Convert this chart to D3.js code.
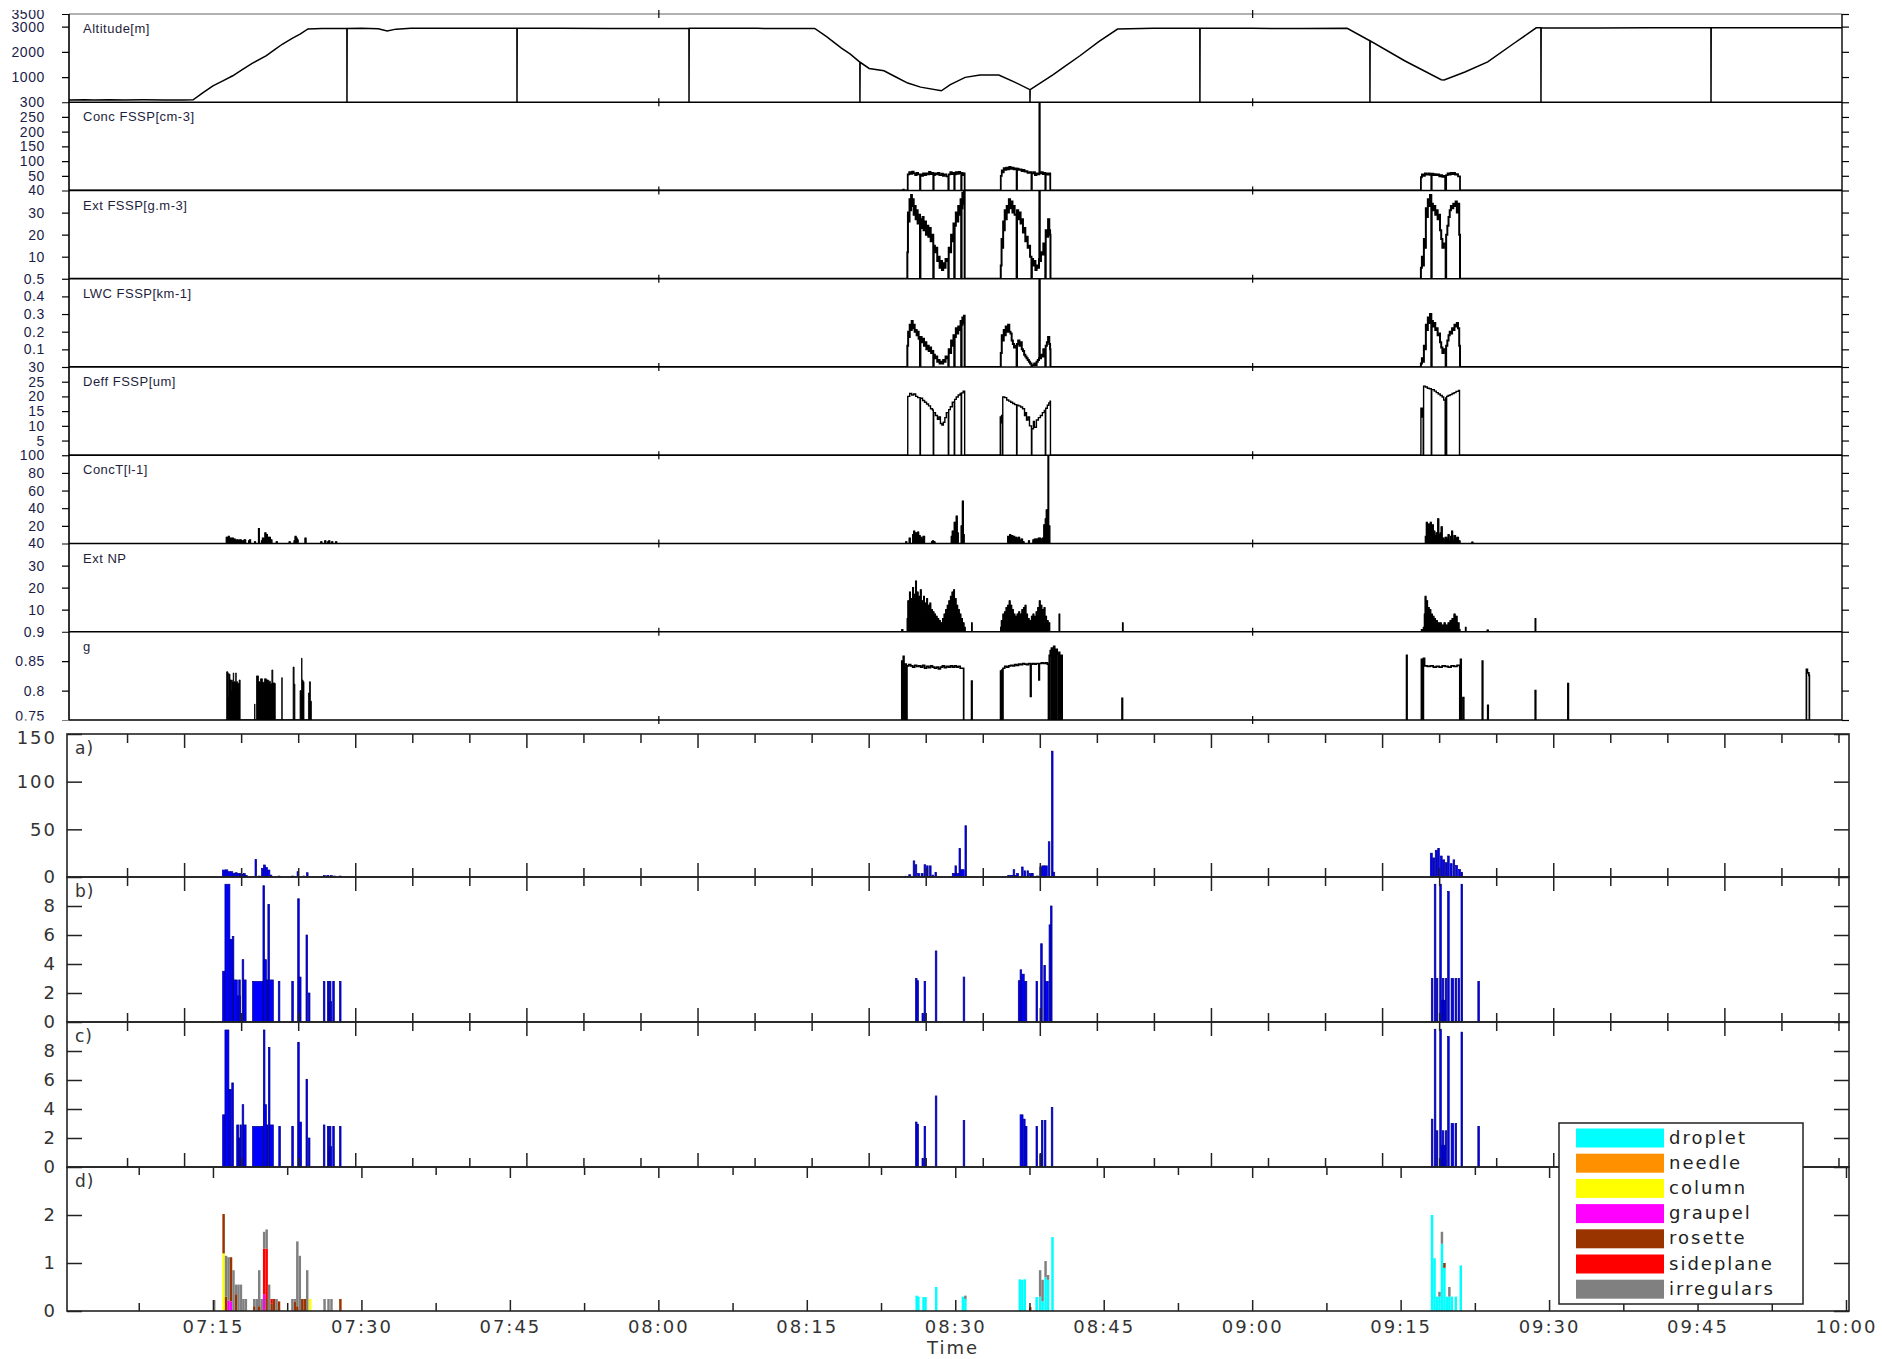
<!DOCTYPE html>
<html><head><meta charset="utf-8">
<script src="https://cdn.jsdelivr.net/npm/d3@7"></script>
<style>body{margin:0;background:#fff}svg{display:block}</style>
</head><body><svg id="c" width="1882" height="1359"></svg>
<script>
// ===== DATA (time = minutes after 07:00) =====
const altitude = [[0.45,90],[2,95],[3,85],[4.5,100],[6,90],[8,95],[10,88],[12,92],[13.0,95],[14.0,380],[15.0,650],[16.0,850],[17.0,1050],[18.0,1300],[19.0,1550],[20.4,1850],[21.2,2080],[22.0,2300],[23.0,2530],[23.8,2700],[24.6,2910],[26,2920],[28.53,2925],[28.54,0],[28.56,2925],[30,2930],[31.7,2915],[32.6,2830],[33.5,2900],[35,2930],[40,2935],[45.71,2930],[45.72,0],[45.74,2930],[50,2935],[55,2925],[63.09,2935],[63.1,0],[63.12,2935],[70,2930],[75.8,2925],[77.0,2600],[78.5,2150],[79.4,1910],[80.36,1590],[80.37,0],[80.39,1585],[81.3,1340],[82.8,1250],[84.0,1000],[85.2,760],[86.5,600],[88.6,456],[89.5,700],[91.0,987],[92.5,1079],[94.4,1079],[96.0,800],[97.54,500],[97.55,0],[97.57,500],[99.9,1100],[101.0,1400],[102.6,1844],[104.5,2400],[106.4,2903],[110,2930],[114.71,2935],[114.72,0],[114.74,2935],[120,2930],[125,2925],[129.6,2931],[131.89,2440],[131.9,0],[131.92,2440],[135.4,1646],[139.1,892],[139.4,880],[141.5,1200],[143.8,1600],[146.5,2350],[148.7,2950],[149.17,2950],[149.18,0],[149.2,2950],[155,2945],[160,2950],[166.35,2950],[166.36,0],[166.38,2950],[172,2955],[179.6,2950]];

const concFSSP = [[0.45,0],[84.7,0],[84.75,3],[84.8,0],[85.15,0],[85.2,55],[85.35,62],[85.5,57],[85.65,64],[85.8,58],[85.95,52],[86.1,60],[86.25,55],[86.44,0],[86.48,55],[86.6,50],[86.75,58],[86.9,52],[87.05,58],[87.2,55],[87.35,63],[87.5,56],[87.65,60],[87.78,0],[87.82,52],[87.95,58],[88.1,55],[88.25,60],[88.4,52],[88.6,57],[88.75,50],[88.9,55],[89.1,48],[89.3,0],[89.34,55],[89.5,62],[89.65,56],[89.8,60],[89.9,0],[89.94,55],[90.05,62],[90.2,57],[90.35,63],[90.5,58],[90.6,0],[90.64,60],[90.75,52],[90.85,58],[90.95,0],[94.55,0],[94.6,50],[94.7,68],[94.8,62],[94.9,76],[95.0,70],[95.15,78],[95.3,72],[95.45,80],[95.6,74],[95.75,78],[95.9,72],[96.05,75],[96.2,0],[96.24,74],[96.4,70],[96.55,72],[96.7,66],[96.85,70],[97.0,64],[97.15,66],[97.3,60],[97.5,62],[97.7,0],[97.74,58],[97.9,62],[98.05,52],[98.2,58],[98.35,55],[98.5,320],[98.54,58],[98.7,62],[98.85,56],[99.0,60],[99.1,0],[99.14,58],[99.3,54],[99.45,58],[99.6,0],[137.0,0],[137.05,45],[137.15,55],[137.3,50],[137.45,58],[137.6,54],[137.8,58],[137.95,53],[138.1,0],[138.14,57],[138.3,52],[138.45,56],[138.6,52],[138.75,55],[138.9,48],[139.05,52],[139.2,46],[139.35,50],[139.5,0],[139.6,52],[139.75,58],[139.9,54],[140.05,60],[140.2,56],[140.35,60],[140.5,54],[140.65,56],[140.8,48],[141.0,0],[179.6,0]];

const extFSSP = [[0.45,0],[85.1,0],[85.16,12],[85.22,30],[85.3,26],[85.38,36],[85.46,31],[85.54,38],[85.62,33],[85.7,36],[85.8,29],[85.9,33],[86.0,27],[86.1,31],[86.2,25],[86.3,29],[86.44,0],[86.48,27],[86.58,23],[86.7,28],[86.8,22],[86.92,26],[87.04,20],[87.16,24],[87.28,19],[87.4,23],[87.52,17],[87.64,20],[87.78,0],[87.82,15],[87.94,12],[88.06,14],[88.18,8],[88.3,10],[88.42,5],[88.54,8],[88.66,4],[88.78,7],[88.9,5],[89.02,9],[89.14,8],[89.3,0],[89.34,14],[89.46,12],[89.58,20],[89.7,17],[89.82,25],[89.9,0],[89.94,24],[90.06,30],[90.18,26],[90.3,33],[90.42,29],[90.54,36],[90.6,0],[90.64,32],[90.72,39],[90.8,34],[90.88,40],[90.95,0],[94.55,0],[94.6,6],[94.68,18],[94.76,14],[94.84,26],[94.92,22],[95.0,31],[95.1,27],[95.2,33],[95.3,30],[95.42,36],[95.54,32],[95.66,35],[95.78,30],[95.9,33],[96.0,29],[96.2,0],[96.24,31],[96.36,27],[96.48,30],[96.6,25],[96.72,27],[96.84,21],[96.96,23],[97.08,17],[97.2,19],[97.32,14],[97.44,15],[97.56,10],[97.7,0],[97.74,9],[97.86,6],[97.98,8],[98.1,4],[98.22,6],[98.34,5],[98.46,9],[98.5,45],[98.54,8],[98.66,12],[98.78,11],[98.9,16],[99.02,14],[99.1,0],[99.14,22],[99.26,19],[99.38,27],[99.5,22],[99.58,20],[99.62,0],[137.0,0],[137.05,5],[137.15,10],[137.25,6],[137.35,18],[137.45,14],[137.55,32],[137.65,28],[137.75,36],[137.85,33],[137.97,38],[138.1,0],[138.14,34],[138.26,31],[138.38,33],[138.5,29],[138.62,31],[138.74,27],[138.86,29],[138.98,22],[139.1,18],[139.22,14],[139.34,16],[139.55,0],[139.6,20],[139.72,24],[139.84,28],[139.96,31],[140.08,33],[140.2,32],[140.32,34],[140.44,33],[140.56,35],[140.68,30],[140.8,34],[140.92,20],[141.0,0],[179.6,0]];

const lwcFSSP = [[0.45,0],[85.1,0],[85.16,0.12],[85.24,0.2],[85.32,0.17],[85.4,0.24],[85.5,0.21],[85.6,0.26],[85.7,0.22],[85.8,0.24],[85.9,0.2],[86.0,0.21],[86.1,0.18],[86.2,0.2],[86.3,0.16],[86.44,0],[86.48,0.17],[86.6,0.14],[86.72,0.16],[86.84,0.12],[86.96,0.14],[87.08,0.1],[87.2,0.12],[87.32,0.09],[87.44,0.11],[87.56,0.08],[87.68,0.09],[87.78,0],[87.82,0.07],[87.94,0.05],[88.06,0.06],[88.18,0.03],[88.3,0.04],[88.42,0.02],[88.54,0.03],[88.66,0.02],[88.78,0.04],[88.9,0.03],[89.02,0.06],[89.14,0.05],[89.3,0],[89.34,0.1],[89.46,0.08],[89.58,0.15],[89.7,0.12],[89.82,0.18],[89.9,0],[89.94,0.17],[90.06,0.22],[90.18,0.19],[90.3,0.23],[90.42,0.21],[90.54,0.26],[90.6,0],[90.64,0.24],[90.72,0.28],[90.8,0.25],[90.88,0.29],[90.95,0],[94.55,0],[94.6,0.08],[94.7,0.18],[94.8,0.15],[94.9,0.21],[95.0,0.18],[95.1,0.23],[95.22,0.2],[95.34,0.24],[95.46,0.2],[95.58,0.19],[95.7,0.15],[95.82,0.13],[95.94,0.11],[96.06,0.12],[96.2,0],[96.24,0.13],[96.36,0.15],[96.48,0.12],[96.6,0.14],[96.72,0.1],[96.84,0.09],[96.96,0.07],[97.08,0.06],[97.2,0.05],[97.32,0.04],[97.44,0.03],[97.56,0.02],[97.7,0],[97.74,0.01],[97.86,0.01],[97.98,0.02],[98.1,0.01],[98.22,0.03],[98.34,0.04],[98.46,0.05],[98.5,0.55],[98.54,0.05],[98.66,0.07],[98.78,0.06],[98.9,0.1],[99.02,0.09],[99.1,0],[99.14,0.12],[99.26,0.14],[99.38,0.17],[99.5,0.13],[99.58,0.1],[99.62,0],[137.0,0],[137.05,0.02],[137.15,0.05],[137.25,0.03],[137.35,0.12],[137.45,0.1],[137.55,0.24],[137.65,0.21],[137.75,0.28],[137.85,0.25],[137.97,0.3],[138.1,0],[138.14,0.26],[138.26,0.23],[138.38,0.25],[138.5,0.21],[138.62,0.22],[138.74,0.18],[138.86,0.19],[138.98,0.14],[139.1,0.11],[139.22,0.08],[139.34,0.1],[139.55,0],[139.6,0.12],[139.72,0.15],[139.84,0.18],[139.96,0.2],[140.08,0.19],[140.2,0.22],[140.32,0.21],[140.44,0.24],[140.56,0.23],[140.68,0.25],[140.8,0.22],[140.92,0.12],[141.0,0],[179.6,0]];

const deffFSSP = [[0.45,0],[85.1,0],[85.2,20],[85.4,21],[85.6,20.5],[85.8,20.8],[86.0,20],[86.2,19.6],[86.44,0],[86.48,19.4],[86.7,18.6],[86.9,18],[87.1,17.4],[87.3,16.8],[87.5,15.8],[87.7,15.4],[87.78,0],[87.82,14.5],[88.0,13.5],[88.2,12.2],[88.35,13],[88.5,10.8],[88.65,10.3],[88.8,11.2],[88.95,12.8],[89.1,14.5],[89.3,0],[89.34,15.5],[89.5,16.5],[89.7,18],[89.9,0],[89.94,19],[90.1,19.8],[90.3,20.5],[90.5,21],[90.6,0],[90.64,21.2],[90.8,21.8],[90.95,0],[94.5,0],[94.55,13],[94.62,11],[94.68,13.5],[94.75,0],[94.8,19.8],[95.0,19.6],[95.2,18.8],[95.4,18.4],[95.6,18],[95.8,17.6],[96.0,17.2],[96.2,0],[96.24,17],[96.4,16.8],[96.6,16.4],[96.8,15.8],[97.0,13.5],[97.1,14.5],[97.2,12],[97.35,13],[97.5,10],[97.7,0],[97.74,9],[97.9,11.5],[98.0,9.5],[98.2,12],[98.4,12.8],[98.6,13.5],[98.8,14.5],[99.0,15.2],[99.1,0],[99.14,16],[99.3,17],[99.45,17.8],[99.58,18.4],[99.62,0],[137.0,0],[137.05,16],[137.12,13],[137.2,16],[137.28,0],[137.32,23.5],[137.5,23.2],[137.7,22.8],[137.9,22.6],[138.1,0],[138.14,22.3],[138.4,21.8],[138.6,21.3],[138.8,20.8],[139.0,20.3],[139.2,19.8],[139.35,18.8],[139.5,0],[139.55,19.5],[139.6,0],[139.65,20],[139.8,20.3],[140.0,20.6],[140.2,21],[140.4,21.3],[140.6,21.7],[140.85,22],[140.95,0],[179.6,0]];

const concT = [[0.45,0],[16.3,0],[16.35,7],[16.45,5],[16.55,8],[16.65,5],[16.75,6],[16.85,4],[16.95,6],[17.05,4],[17.15,5],[17.25,3],[17.4,4],[17.55,3],[17.7,4],[17.85,3],[18.0,0],[18.05,3],[18.15,4],[18.3,0],[18.6,3],[18.7,4],[18.8,0],[19.2,2],[19.3,0],[19.6,17],[19.68,0],[19.9,3],[20.0,6],[20.1,5],[20.25,12],[20.35,10],[20.5,7],[20.65,7],[20.8,4],[20.95,0],[21.4,2],[21.5,0],[22.7,2],[22.8,0],[23.2,3],[23.3,8],[23.4,6],[23.5,4],[23.6,0],[24.3,6],[24.4,0],[25.9,2],[26.0,0],[26.3,3],[26.4,0],[26.6,2],[26.7,3],[26.8,0],[27.0,2],[27.1,0],[27.4,2],[27.5,0],[84.8,0],[85.0,2],[85.1,0],[85.35,6],[85.45,0],[85.7,10],[85.8,14],[85.9,8],[86.0,12],[86.1,6],[86.2,13],[86.3,9],[86.45,7],[86.6,5],[86.75,8],[86.9,0],[87.6,2],[87.7,3],[87.8,2],[87.95,0],[89.6,8],[89.7,14],[89.8,10],[89.9,24],[90.0,18],[90.1,31],[90.2,12],[90.3,0],[90.6,20],[90.72,48],[90.82,10],[90.9,0],[95.2,0],[95.3,8],[95.4,5],[95.5,10],[95.6,6],[95.7,9],[95.8,7],[95.9,8],[96.0,4],[96.1,7],[96.2,5],[96.35,7],[96.5,3],[96.65,5],[96.8,2],[96.95,0],[97.4,3],[97.5,0],[97.85,4],[98.0,5],[98.2,5],[98.4,6],[98.6,5],[98.8,6],[98.95,21],[99.1,28],[99.2,38],[99.3,15],[99.38,105],[99.44,20],[99.55,0],[137.4,0],[137.5,8],[137.6,24],[137.7,16],[137.8,22],[137.9,12],[138.0,24],[138.1,10],[138.2,21],[138.3,14],[138.45,9],[138.6,12],[138.75,28],[138.85,10],[139.0,12],[139.1,19],[139.2,6],[139.35,4],[139.5,7],[139.65,5],[139.8,10],[139.9,3],[140.05,8],[140.15,14],[140.25,4],[140.4,9],[140.55,6],[140.7,7],[140.85,3],[141.0,0],[142.2,1.5],[142.3,0],[179.6,0]];

const extNP = [[0.45,0],[84.5,0],[84.6,1],[84.7,0],[85.1,0],[85.15,6],[85.22,14],[85.3,8],[85.38,18],[85.46,9],[85.54,15],[85.62,7],[85.7,20],[85.78,10],[85.86,17],[85.94,9],[86.0,23],[86.08,11],[86.16,18],[86.24,9],[86.32,16],[86.4,8],[86.48,19],[86.56,10],[86.64,14],[86.72,8],[86.8,16],[86.88,9],[86.96,13],[87.04,7],[87.12,15],[87.2,8],[87.28,12],[87.36,6],[87.44,13],[87.52,6],[87.6,10],[87.68,5],[87.76,9],[87.84,4],[87.92,8],[88.0,4],[88.08,7],[88.16,3],[88.24,6],[88.32,2],[88.4,5],[88.48,1],[88.56,4],[88.64,2],[88.72,6],[88.8,3],[88.88,8],[88.96,4],[89.04,10],[89.12,5],[89.2,12],[89.28,6],[89.36,14],[89.44,7],[89.52,16],[89.6,9],[89.68,18],[89.76,10],[89.84,19],[89.92,8],[90.0,15],[90.08,5],[90.16,12],[90.24,4],[90.32,10],[90.4,3],[90.48,8],[90.56,2],[90.64,6],[90.72,1],[90.8,4],[90.88,1],[90.96,2],[91.0,0],[91.6,0],[91.65,4],[91.7,0],[94.5,0],[94.58,2],[94.66,5],[94.74,2],[94.82,8],[94.9,4],[94.98,9],[95.06,5],[95.14,11],[95.22,6],[95.3,12],[95.38,7],[95.46,14],[95.54,8],[95.62,12],[95.7,6],[95.78,10],[95.86,5],[95.94,8],[96.02,4],[96.1,7],[96.18,4],[96.26,8],[96.34,5],[96.42,9],[96.5,5],[96.58,8],[96.66,4],[96.74,10],[96.82,6],[96.9,11],[96.98,6],[97.06,12],[97.14,5],[97.22,8],[97.3,3],[97.38,6],[97.46,2],[97.54,5],[97.62,2],[97.7,7],[97.78,3],[97.86,8],[97.94,4],[98.02,7],[98.1,4],[98.18,9],[98.26,5],[98.34,11],[98.42,6],[98.5,14],[98.58,7],[98.66,12],[98.74,6],[98.82,10],[98.9,5],[98.98,11],[99.06,4],[99.14,7],[99.22,2],[99.3,5],[99.38,1],[99.46,4],[99.54,0],[100.45,0],[100.5,8],[100.55,0],[106.85,0],[106.9,4],[106.95,0],[137.0,0],[137.1,1],[137.2,0],[137.3,2],[137.4,8],[137.48,16],[137.56,9],[137.64,14],[137.72,8],[137.8,11],[137.88,7],[137.96,10],[138.04,6],[138.12,8],[138.2,5],[138.28,7],[138.36,4],[138.44,6],[138.52,3],[138.6,5],[138.7,3],[138.8,4],[138.9,2],[139.0,4],[139.1,2],[139.2,3],[139.3,2],[139.4,4],[139.5,2],[139.6,3],[139.7,2],[139.8,4],[139.9,3],[140.0,5],[140.1,3],[140.2,6],[140.3,4],[140.4,8],[140.5,5],[140.6,7],[140.7,3],[140.8,4],[140.9,1],[141.0,0],[141.5,0],[141.55,2],[141.6,0],[143.7,0],[143.75,0.8],[143.85,0],[148.55,0],[148.6,6],[148.65,0],[179.6,0]];

// g: early rapidly-sampled part (drawn filled) and the rest (drawn as a line)
const gEarly = [[16.3,0],[16.38,0.832],[16.5,0.83],[16.55,0.79],[16.6,0.828],[16.72,0.818],[16.82,0.8],[16.86,0.818],[16.95,0.815],[17.05,0.83],[17.1,0.815],[17.3,0.83],[17.35,0.815],[17.5,0.812],[17.65,0.818],[17.75,0],[19.15,0],[19.2,0.777],[19.25,0],[19.4,0.825],[19.6,0.815],[19.8,0.82],[20.0,0.814],[20.2,0.82],[20.4,0.818],[20.6,0.816],[20.8,0.812],[20.95,0.835],[21.05,0.813],[21.25,0.812],[21.3,0],[21.9,0],[21.95,0.822],[22.0,0],[23.05,0],[23.1,0.84],[23.2,0.811],[23.28,0],[23.75,0],[23.8,0.8],[23.95,0.855],[24.0,0.818],[24.1,0.815],[24.2,0],[24.6,0],[24.65,0.796],[24.75,0.815],[24.85,0.782],[24.95,0]];
const gParam = [[0.45,0],[84.55,0],[84.6,0.85],[84.66,0],[84.75,0.858],[84.82,0],[84.95,0.845],[85.05,0],[85.12,0.842],[85.3,0.844],[85.5,0.842],[85.7,0.84],[85.9,0.843],[86.1,0.841],[86.3,0.842],[86.5,0.84],[86.7,0.843],[86.9,0.838],[87.1,0.841],[87.3,0.839],[87.5,0.842],[87.7,0.84],[87.9,0.838],[88.1,0.84],[88.3,0.837],[88.5,0.84],[88.7,0.842],[88.9,0.839],[89.1,0.841],[89.3,0.84],[89.5,0.842],[89.7,0.84],[89.9,0.842],[90.1,0.84],[90.3,0.841],[90.5,0.838],[90.85,0],[91.6,0],[91.65,0.816],[91.7,0],[94.5,0],[94.58,0.833],[94.64,0],[94.7,0.835],[94.76,0],[94.82,0.838],[95.0,0.841],[95.2,0.84],[95.4,0.842],[95.6,0.843],[95.8,0.842],[96.0,0.844],[96.2,0.843],[96.4,0.845],[96.6,0.844],[96.8,0.846],[97.0,0.845],[97.2,0.844],[97.4,0.846],[97.6,0.79],[97.66,0.845],[97.8,0.846],[98.0,0.845],[98.2,0.846],[98.45,0.818],[98.5,0.846],[98.7,0.847],[98.9,0.846],[99.1,0.847],[99.3,0.845],[99.42,0],[99.5,0.86],[99.6,0.868],[99.68,0],[99.72,0.872],[99.8,0.87],[99.88,0],[99.95,0.875],[100.05,0.868],[100.12,0],[100.2,0.87],[100.3,0.862],[100.38,0],[100.48,0.865],[100.55,0],[100.7,0.86],[100.8,0],[106.8,0],[106.85,0.787],[106.9,0],[135.55,0],[135.6,0.86],[135.65,0],[137.05,0],[137.1,0.853],[137.2,0],[137.3,0.855],[137.42,0.842],[137.7,0.841],[138.0,0.842],[138.3,0.84],[138.6,0.841],[138.9,0.84],[139.2,0.842],[139.5,0.841],[139.8,0.84],[140.1,0.842],[140.4,0.841],[140.7,0.843],[140.98,0],[141.05,0.853],[141.12,0],[141.3,0.788],[141.38,0],[143.2,0],[143.25,0.85],[143.3,0],[143.75,0],[143.8,0.775],[143.85,0],[148.55,0],[148.6,0.8],[148.65,0],[151.85,0],[151.9,0.812],[151.95,0],[175.95,0],[176.0,0.836],[176.1,0.83],[176.25,0.826],[176.3,0],[179.6,0]];

// bar panels: [time, value, width(min)]
const barsA = [[15.95,7.3,0.3],[16.25,7.5,0.25],[16.5,5.6,0.25],[16.75,5.6,0.25],[17.0,4,0.25],[17.25,4.5,0.2],[17.45,3.6,0.25],[17.7,3.6,0.2],[17.9,3,0.2],[18.1,3.6,0.15],[18.3,1.7,0.15],[19.25,18.5,0.08],[19.6,1,0.1],[19.9,9,0.2],[20.1,12.6,0.2],[20.3,10,0.2],[20.5,7.3,0.25],[20.75,2,0.2],[21.6,1,0.1],[22.96,1,0.1],[23.5,5.6,0.15],[24.1,1,0.1],[24.45,4.5,0.15],[26.15,1.5,0.2],[26.5,1.5,0.2],[26.85,1.5,0.2],[27.2,1,0.1],[27.8,1,0.1],[84.9,0.8,0.1],[85.3,2.4,0.2],[85.75,16.9,0.12],[85.95,12.9,0.12],[86.2,3.7,0.2],[86.55,3.7,0.2],[86.85,12.9,0.12],[87.1,11.7,0.12],[87.4,11.7,0.12],[87.65,2,0.15],[87.95,4.8,0.12],[89.7,3.7,0.25],[89.97,11.7,0.12],[90.1,3.7,0.25],[90.38,29.8,0.1],[90.55,7.7,0.35],[90.98,53.8,0.1],[95.3,1.7,0.5],[95.85,7.7,0.1],[96.0,1.7,0.2],[96.2,3.7,0.2],[96.7,10.5,0.12],[96.95,6.5,0.12],[97.25,6.5,0.12],[97.5,3.7,0.2],[97.72,3.7,0.15],[98.2,1,0.2],[98.55,10.5,0.12],[98.75,11.7,0.25],[99.0,11.7,0.3],[99.4,37,0.12],[99.72,132,0.1],[99.85,5,0.2],[138.0,25,0.2],[138.25,20,0.2],[138.5,28,0.2],[138.75,30,0.15],[139.0,22,0.2],[139.25,18,0.2],[139.5,15,0.2],[139.75,22,0.15],[140.0,14,0.2],[140.3,18,0.15],[140.55,12,0.2],[140.85,8,0.2],[141.1,5,0.15]];
const barsB = [[15.98,3.5,0.23],[16.21,9.5,0.5],[16.72,5.7,0.25],[16.95,5.9,0.1],[17.06,2.9,0.4],[17.46,1.8,0.3],[17.6,2.9,0.1],[17.95,4.3,0.15],[18.1,2.9,0.25],[19.0,2.8,1.05],[20.05,9.4,0.1],[20.15,4.3,0.25],[20.4,2.9,0.15],[20.55,8.1,0.1],[20.65,2.9,0.45],[21.6,2.8,0.1],[22.96,2.8,0.1],[23.56,8.5,0.1],[23.7,3.1,0.2],[24.4,6,0.1],[24.64,2,0.1],[26.15,2.8,0.1],[26.56,2.8,0.1],[26.7,1.4,0.3],[26.76,2.8,0.06],[27.1,2.8,0.1],[27.78,2.8,0.1],[85.98,3.0,0.12],[86.12,2.85,0.12],[86.64,0.6,0.12],[86.85,2.8,0.1],[87.98,4.9,0.1],[90.8,3.1,0.1],[96.37,2.85,0.35],[96.55,3.6,0.1],[96.72,3.3,0.25],[96.98,2.8,0.25],[98.16,2.8,0.1],[98.63,5.4,0.1],[98.95,3.9,0.1],[99.1,2.8,0.3],[99.48,6.7,0.12],[99.62,8.0,0.15],[138.1,3,0.12],[138.4,9.5,0.12],[138.6,3,0.15],[138.95,9.5,0.12],[139.15,1.5,0.4],[139.2,3,0.1],[139.5,3,0.1],[139.75,9,0.12],[140.1,3,0.25],[140.5,3,0.12],[140.8,3,0.12],[141.1,9.5,0.12],[142.8,2.8,0.1]];
const barsC = [[15.98,3.6,0.23],[16.21,9.45,0.4],[16.6,5.35,0.25],[16.9,5.8,0.1],[17.4,2.9,0.2],[17.56,2,0.15],[17.73,2.9,0.1],[17.95,4.3,0.1],[18.05,2.9,0.3],[19.0,2.8,1.05],[20.09,9.45,0.1],[20.15,4.3,0.25],[20.4,2.9,0.15],[20.6,8.25,0.1],[20.7,2.9,0.4],[21.65,2.8,0.1],[22.96,2.8,0.1],[23.56,8.6,0.1],[23.7,3.1,0.25],[24.4,6.05,0.1],[24.64,2,0.1],[26.15,2.9,0.1],[26.56,2.8,0.1],[26.7,1.4,0.3],[26.76,2.8,0.06],[27.1,2.8,0.1],[27.78,2.8,0.1],[85.98,3.1,0.12],[86.12,2.95,0.12],[86.64,0.6,0.12],[86.85,2.8,0.1],[87.98,4.9,0.1],[90.8,3.2,0.1],[96.55,3.6,0.3],[96.9,3.3,0.12],[97.05,2.8,0.2],[98.16,2.8,0.1],[98.55,0.85,0.1],[98.7,3.2,0.1],[99.0,3.2,0.1],[99.7,4.1,0.12],[138.1,3.3,0.12],[138.4,9.5,0.12],[138.6,2.5,0.15],[138.95,9.5,0.12],[139.15,1.5,0.4],[139.2,2.5,0.1],[139.5,2.5,0.1],[139.75,9,0.12],[140.1,3,0.25],[140.5,3,0.12],[141.1,9.3,0.12],[142.8,2.8,0.1]];

// panel d: per habit class, [time, value]
const classes = ["droplet","needle","column","graupel","rosette","sideplane","irregulars"];
const classColors = ["#00ffff","#ff9000","#ffff00","#ff00ff","#993300","#ff0000","#808080"];
const dDroplet = [[85.98,.32],[86.15,.3],[86.67,.29],[86.87,.29],[87.95,.5],[90.65,.3],[90.9,.25],[96.4,.66],[96.65,.65],[96.9,.66],[98.1,.29],[98.45,.3],[98.7,.2],[99.0,.7],[99.25,.65],[99.7,1.54],[138.05,2.0],[138.3,1.1],[138.55,.3],[138.8,.3],[139.05,1.4],[139.3,.9],[139.55,.3],[139.8,.3],[140.05,.3],[140.45,.3],[140.95,.95]];
const dNeedle = [];
const dColumn = [[15.95,1.2],[24.7,.25]];
const dGraupel = [[16.45,.22],[16.7,.2],[20.05,.35]];
const dRosette = [[15.95,.82],[16.2,.3],[16.7,.92],[17.2,.35],[19.05,.1],[19.55,.1],[20.3,.25],[20.8,.15],[21.05,.25],[21.55,.2],[23.15,.2],[23.4,.1],[23.9,.25],[24.15,.25],[27.75,.25],[97.45,.08],[139.3,.1]];
const dSideplane = [[20.05,.95],[20.3,1.05],[20.8,.1]];
const dIrregulars = [[15.0,.23],[16.2,.85],[16.45,.9],[16.95,.85],[17.2,.2],[17.45,.55],[17.7,.55],[17.95,.25],[18.2,.25],[19.05,.15],[19.3,.25],[19.55,.75],[19.8,.25],[20.05,.35],[20.3,.4],[20.55,.55],[21.3,.25],[22.9,.25],[23.15,.05],[23.4,1.35],[23.65,1.15],[24.4,.85],[26.15,.25],[26.55,.25],[26.85,.25],[90.9,.07],[98.45,.55],[98.7,.45],[99.0,.34],[99.25,.1],[138.8,.1],[139.05,.25],[139.8,.2]];

const topTitles = ["Altitude[m]","Conc FSSP[cm-3]","Ext FSSP[g.m-3]","LWC FSSP[km-1]","Deff FSSP[um]","ConcT[l-1]","Ext NP","g"];
const topDomains = [[0,3500],[0,300],[0,40],[0,0.5],[0,30],[0,100],[0,40],[0.75,0.9]];
const topTicks = [[1000,2000,3000,3500],[50,100,150,200,250,300],[10,20,30,40],[0.1,0.2,0.3,0.4,0.5],[5,10,15,20,25,30],[20,40,60,80,100],[10,20,30,40],[0.75,0.8,0.85,0.9]];
const topSeries = [altitude,concFSSP,extFSSP,lwcFSSP,deffFSSP,concT,extNP,gParam];
const topFilled = [null,null,null,null,null,concT,extNP,gEarly];
const bottomLabels = ["a)","b)","c)","d)"];
const bottomDomains = [[0,150],[0,10],[0,10],[0,3]];
const bottomTicks = [[0,50,100,150],[0,2,4,6,8],[0,2,4,6,8],[0,1,2]];
const timeTickMinutes = [15,30,45,60,75,90,105,120,135,150,165,180];

// ===== DRAWING =====
const svg = d3.select("#c");
const defs = svg.append("defs");
const base = new Date(2000,0,1,7,0,0).getTime();
const T = m => new Date(base + m*60000);
const x = d3.scaleTime().domain([T(0),T(180)]).range([64.5,1846]);
const fmt = d3.timeFormat("%H:%M");

const TOP=14, PH=88.25, XL=69, XR=1842;
const labFont = "'Liberation Sans', Arial, sans-serif";
const bigFont = "'DejaVu Sans', Verdana, sans-serif";
const strokeW = [1.5,1.8,2.0,2.0,1.4,1.2,1.2,1.7];

defs.append("clipPath").attr("id","labclip").append("rect").attr("x",0).attr("y",10).attr("width",XL+1).attr("height",710.5);
const labG = svg.append("g").attr("clip-path","url(#labclip)");

topSeries.forEach((data,i)=>{
  const y0 = TOP+i*PH, y1 = y0+PH;
  const y = d3.scaleLinear().domain(topDomains[i]).range([y1,y0]);
  const cid = "ct"+i;
  defs.append("clipPath").attr("id",cid).append("rect").attr("x",XL).attr("y",y0).attr("width",XR-XL).attr("height",PH);
  const gp = svg.append("g").attr("clip-path",`url(#${cid})`);
  if(topFilled[i]){
    const area = d3.area().x(d=>x(T(d[0]))).y0(y1).y1(d=>Math.min(y1,y(d[1]))).curve(d3.curveStepAfter);
    gp.append("path").attr("d",area(topFilled[i])).attr("fill","#000").attr("stroke","#000").attr("stroke-width",0.8);
  }
  const line = d3.line().x(d=>x(T(d[0]))).y(d=>y(d[1])).curve(i===0?d3.curveLinear:d3.curveStepAfter);
  gp.append("path").attr("d",line(data))
    .attr("fill","none").attr("stroke","#000").attr("stroke-width",strokeW[i]);
  svg.append("text").attr("x",83).attr("y",y0+19).text(topTitles[i])
    .attr("font-family",labFont).attr("font-size",13).attr("letter-spacing",0.5).attr("fill","#1e1e3c");
  const ga = labG.append("g").attr("transform",`translate(${XL},0)`)
    .call(d3.axisLeft(y).tickValues(topTicks[i]).tickSize(7).tickPadding(17).tickFormat(d=>String(d)));
  ga.select(".domain").remove();
  ga.selectAll("line").attr("stroke","#000").attr("stroke-width",1.2);
  ga.selectAll("text").attr("font-family",labFont).attr("font-size",14).attr("letter-spacing",0.6).attr("fill","#1c1c48")
    .attr("dy",d=>(i===7&&d===0.75)?"0.05em":"0.32em");
  const gr = svg.append("g").attr("transform",`translate(${XR},0)`)
    .call(d3.axisRight(y).tickValues(topTicks[i]).tickSize(7).tickFormat(""));
  gr.select(".domain").remove();
  gr.selectAll("line").attr("stroke","#000").attr("stroke-width",1.2);
});
// top frame lines
for(let i=0;i<=8;i++){
  const yb = TOP+i*PH;
  svg.append("line").attr("x1",XL).attr("x2",XR).attr("y1",yb).attr("y2",yb)
    .attr("stroke",i===0?"#666":"#000").attr("stroke-width",i===0?1.2:1.3);
  [d3.axisBottom, d3.axisTop].forEach(ax=>{
    const g = svg.append("g").attr("transform",`translate(0,${yb})`)
      .call(ax(x).tickValues([T(60),T(120)]).tickSize(4).tickFormat(""));
    g.select(".domain").remove();
    g.selectAll("line").attr("stroke","#000").attr("stroke-width",1.2);
  });
}
svg.append("line").attr("x1",XL).attr("x2",XL).attr("y1",TOP).attr("y2",TOP+8*PH).attr("stroke","#000").attr("stroke-width",1.6);
svg.append("line").attr("x1",XR).attr("x2",XR).attr("y1",TOP).attr("y2",TOP+8*PH).attr("stroke","#000").attr("stroke-width",1.4);

// ===== bottom panels =====
const BX0=67, BX1=1849;
const rows = [[734,877],[877,1022],[1022,1167],[1167,1311]];
const barSets = [barsA,barsB,barsC];
const abTickStart = 6.32, abTickStep = 5.764;
const abTicks = d3.range(0,32).map(n=>abTickStart+n*abTickStep).filter(m=>m<179.5);

const dSets = [dDroplet,dNeedle,dColumn,dGraupel,dRosette,dSideplane,dIrregulars];
const dTimes = Array.from(new Set(dSets.flat().map(d=>d[0]))).sort((a,b)=>a-b);
const dRows = dTimes.map(t=>{const r={t}; classes.forEach((k,j)=>{const f=dSets[j].find(d=>d[0]===t); r[k]=f?f[1]:0;}); return r;});
const stacked = d3.stack().keys(classes)(dRows);
const dBarW = 0.25;

rows.forEach(([yt,yb],i)=>{
  const y = d3.scaleLinear().domain(bottomDomains[i]).range([yb,yt]);
  const cid = "cb"+i;
  defs.append("clipPath").attr("id",cid).append("rect").attr("x",BX0).attr("y",yt).attr("width",BX1-BX0).attr("height",yb-yt);
  const g = svg.append("g").attr("clip-path",`url(#${cid})`);
  if(i<3){
    g.selectAll("rect").data(barSets[i]).join("rect")
      .attr("x",d=>x(T(d[0]))).attr("width",d=>Math.max(1.6,x(T(d[0]+d[2]))-x(T(d[0]))))
      .attr("y",d=>y(d[1])).attr("height",d=>y(0)-y(d[1]))
      .attr("fill","#0000ff").attr("stroke","#000088").attr("stroke-width",0.7);
  } else {
    stacked.forEach((layer,j)=>{
      g.append("g").selectAll("rect").data(layer.filter(s=>s[1]-s[0]>0)).join("rect")
        .attr("x",s=>x(T(s.data.t))).attr("width",s=>x(T(s.data.t+dBarW))-x(T(s.data.t)))
        .attr("y",s=>y(s[1])).attr("height",s=>y(s[0])-y(s[1]))
        .attr("fill",classColors[j]);
    });
  }
  const gl = svg.append("g").attr("transform",`translate(${BX0},0)`)
    .call(d3.axisLeft(y).tickValues(bottomTicks[i]).tickSizeInner(-15).tickSizeOuter(0).tickPadding(10).tickFormat(d=>String(d)));
  gl.select(".domain").remove();
  gl.selectAll("line").attr("stroke","#222").attr("stroke-width",1.5);
  gl.selectAll("text").attr("font-family",bigFont).attr("font-size",18).attr("letter-spacing",2).attr("fill","#333")
    .attr("dy",d=>(i===0&&d===150)?"0.5em":"0.32em");
  const gr = svg.append("g").attr("transform",`translate(${BX1},0)`)
    .call(d3.axisRight(y).tickValues(bottomTicks[i]).tickSizeInner(-15).tickSizeOuter(0).tickFormat(""));
  gr.select(".domain").remove();
  gr.selectAll("line").attr("stroke","#222").attr("stroke-width",1.5);
  if(i<3){
    [[abTicks.filter((m,n)=>n%3===1),-14],[abTicks.filter((m,n)=>n%3!==1),-9]].forEach(([vals,len])=>{
      [[d3.axisTop,yt],[d3.axisBottom,yb]].forEach(([ax,yy])=>{
        const ga = svg.append("g").attr("transform",`translate(0,${yy})`)
          .call(ax(x).tickValues(vals.map(T)).tickSizeInner(len).tickSizeOuter(0).tickFormat(""));
        ga.select(".domain").remove();
        ga.selectAll("line").attr("stroke","#222").attr("stroke-width",1.5);
      });
    });
  } else {
    const minor = timeTickMinutes.map(m=>m-7.5);
    const gb = svg.append("g").attr("transform",`translate(0,${yb})`)
      .call(d3.axisBottom(x).tickValues(timeTickMinutes.map(T)).tickSizeInner(-11).tickSizeOuter(0).tickPadding(9).tickFormat(fmt));
    gb.select(".domain").remove();
    gb.selectAll("line").attr("stroke","#222").attr("stroke-width",1.5);
    gb.selectAll("text").attr("font-family",bigFont).attr("font-size",18).attr("letter-spacing",2).attr("fill","#333");
    [[d3.axisBottom,yb,minor,-8],[d3.axisTop,yt,minor,-8],[d3.axisTop,yt,timeTickMinutes,-11]].forEach(([ax,yy,vals,len])=>{
      const ga = svg.append("g").attr("transform",`translate(0,${yy})`)
        .call(ax(x).tickValues(vals.map(T)).tickSizeInner(len).tickSizeOuter(0).tickFormat(""));
      ga.select(".domain").remove();
      ga.selectAll("line").attr("stroke","#222").attr("stroke-width",1.5);
    });
  }
  svg.append("text").attr("x",75).attr("y",yt+20).text(bottomLabels[i])
    .attr("font-family",bigFont).attr("font-size",17).attr("letter-spacing",1).attr("fill","#333");
});
rows.forEach(([yt,yb])=>{
  svg.append("rect").attr("x",BX0).attr("y",yt).attr("width",BX1-BX0).attr("height",yb-yt)
    .attr("fill","none").attr("stroke","#222").attr("stroke-width",1.6);
});
svg.append("text").attr("x",953).attr("y",1354).attr("text-anchor","middle").text("Time")
  .attr("font-family",bigFont).attr("font-size",18).attr("letter-spacing",2).attr("fill","#333");

// legend
const lg = svg.append("g");
lg.append("rect").attr("x",1559).attr("y",1123).attr("width",244).attr("height",181)
  .attr("fill","#fff").attr("stroke","#222").attr("stroke-width",1.5);
classes.forEach((k,j)=>{
  const yy = 1128.5 + j*25.2;
  lg.append("rect").attr("x",1576).attr("y",yy).attr("width",88).attr("height",19).attr("fill",classColors[j]);
  lg.append("text").attr("x",1669).attr("y",yy+15).text(k)
    .attr("font-family",bigFont).attr("font-size",18).attr("letter-spacing",2).attr("fill","#222");
});
</script></body></html>
